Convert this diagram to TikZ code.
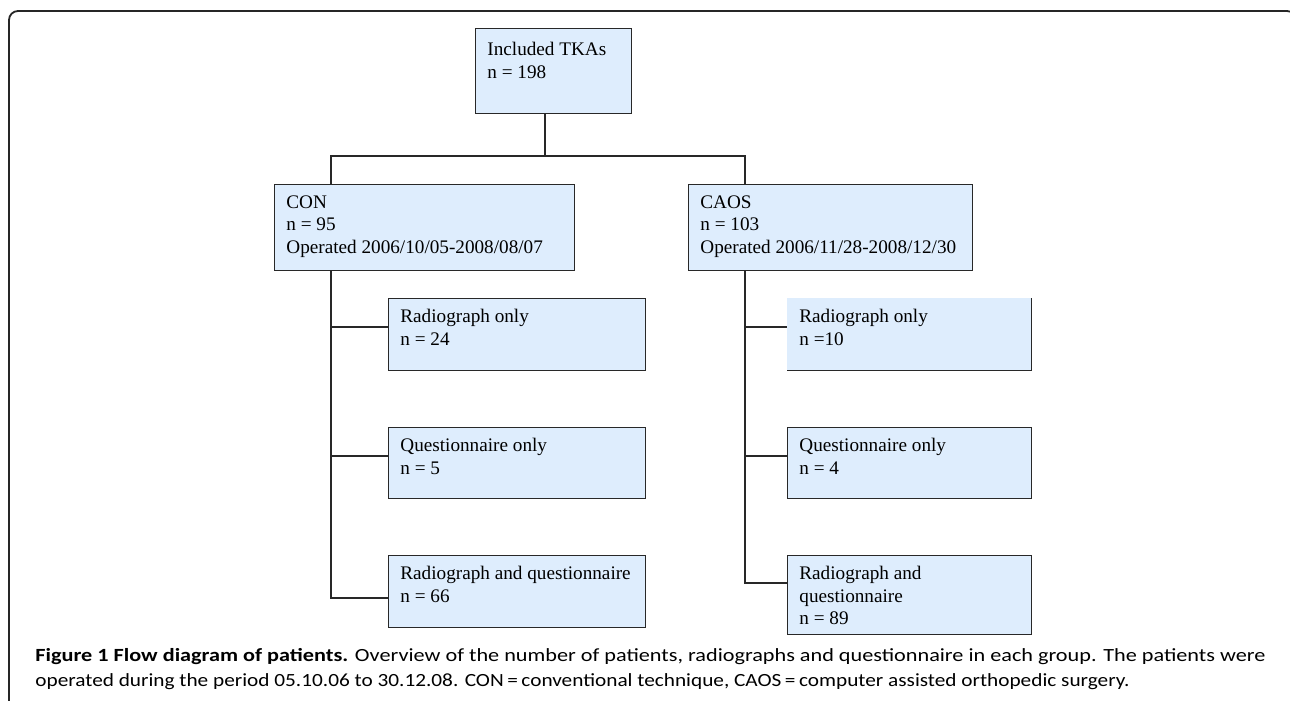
\documentclass[tikz,border=0pt]{standalone}
\usepackage{fontspec}
\usepackage{graphicx}
\setmainfont{Liberation Serif}
\newfontfamily\capfont{Carlito}
\usetikzlibrary{calc}
\definecolor{boxfill}{RGB}{222,237,253}
\definecolor{boxline}{RGB}{40,40,40}
\tikzset{
  fbox/.style={draw=boxline, line width=0.6pt, fill=boxfill, rectangle, anchor=north west, inner sep=0pt},
  nbox/.style={fill=boxfill, rectangle, anchor=north west, inner sep=0pt},
  btext/.style={anchor=north west, inner sep=0pt, align=left, font=\fontsize{9.6}{11.25}\selectfont},
  conn/.style={draw=boxline, line width=0.6pt},
  captxt/.style={anchor=base west, inner sep=0pt, font=\capfont\fontsize{9.3}{11}\selectfont}
}
\begin{document}
\begin{tikzpicture}[x=0.5pt,y=-0.5pt]
\useasboundingbox (0,0) rectangle (1290,701);
% outer frame
\draw[line width=0.9pt, draw=black!85, rounded corners=4.5pt] (9,720) -- (9,11) -- (1296,11) -- (1296,720);
% boxes
\node[fbox, minimum width=78pt, minimum height=42.5pt] (top) at (475,28) {};
\node[fbox, minimum width=150pt, minimum height=43pt] (con) at (274,184) {};
\node[fbox, minimum width=142pt, minimum height=43pt] (caos) at (688,184) {};
\node[fbox, minimum width=128.5pt, minimum height=36pt] (l1) at (388,298) {};
\node[fbox, minimum width=128.5pt, minimum height=35.5pt] (l2) at (388,427) {};
\node[fbox, minimum width=128.5pt, minimum height=36pt] (l3) at (388,555) {};
\node[nbox, minimum width=122pt, minimum height=36pt] (r1) at (787,298) {};
\draw[conn] (r1.north east) -- (r1.south east) -- (r1.south west);
\node[fbox, minimum width=122pt, minimum height=35.5pt] (r2) at (787,427) {};
\node[fbox, minimum width=122pt, minimum height=39.5pt] (r3) at (787,555) {};
% texts
\node[btext] (ttop) at ($(top.north west)+(12,14)$) {Included TKAs\\n = 198};
\node[btext] (tcon) at ($(con.north west)+(12,11)$) {CON\\n = 95\\Operated 2006/10/05-2008/08/07};
\node[btext] (tcaos) at ($(caos.north west)+(12,11)$) {CAOS\\n = 103\\Operated 2006/11/28-2008/12/30};
\node[btext] (tl1) at ($(l1.north west)+(12,11)$) {Radiograph only\\n = 24};
\node[btext] (tl2) at ($(l2.north west)+(12,11)$) {Questionnaire only\\n = 5};
\node[btext] (tl3) at ($(l3.north west)+(12,11)$) {Radiograph and questionnaire\\n = 66};
\node[btext] (tr1) at ($(r1.north west)+(12,11)$) {Radiograph only\\n =10};
\node[btext] (tr2) at ($(r2.north west)+(12,11)$) {Questionnaire only\\n = 4};
\node[btext] (tr3) at ($(r3.north west)+(12,11)$) {Radiograph and\\questionnaire\\n = 89};
% connector coordinates
\coordinate (tj) at (545,156);
\coordinate (lj) at (331,156);
\coordinate (rj) at (745,156);
\coordinate (lb1) at (331,327);
\coordinate (lb2) at (331,456);
\coordinate (lb3) at (331,598);
\coordinate (rb1) at (745,327);
\coordinate (rb2) at (745,456);
\coordinate (rb3) at (745,583);
% connectors
\draw[conn] (top.south -| tj) -- (tj);
\draw[conn] (con.north -| lj) -- (lj) -- (rj) -- (caos.north -| rj);
\draw[conn] (con.south -| lb1) -- (lb3) -- (l3.west |- lb3);
\draw[conn] (lb1) -- (l1.west |- lb1);
\draw[conn] (lb2) -- (l2.west |- lb2);
\draw[conn] (caos.south -| rb1) -- (rb3) -- (r3.west |- rb3);
\draw[conn] (rb1) -- (r1.west |- rb1);
\draw[conn] (rb2) -- (r2.west |- rb2);
% caption
\node[captxt] (cap1) at (35,661) {\resizebox{615pt}{\height}{\textbf{Figure 1 Flow diagram of patients.} Overview of the number of patients, radiographs and questionnaire in each group. The patients were}};
\node[captxt] (cap2) at (35,686) {\resizebox{547pt}{\height}{operated during the period 05.10.06 to 30.12.08. CON\,=\,conventional technique, CAOS\,=\,computer assisted orthopedic surgery.}};
\end{tikzpicture}
\end{document}
